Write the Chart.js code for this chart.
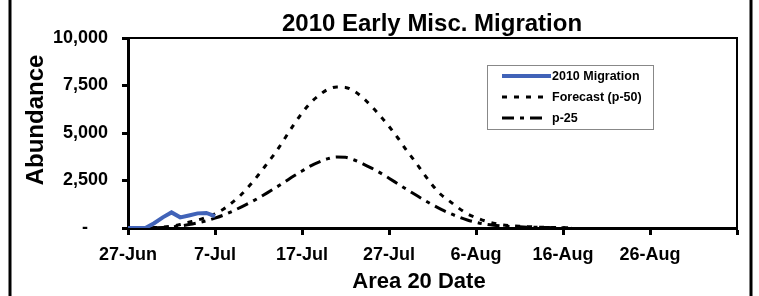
<!DOCTYPE html>
<html>
<head>
<meta charset="utf-8">
<script src="https://cdn.jsdelivr.net/npm/chart.js@4.4.1/dist/chart.umd.min.js"></script>
<style>
  html, body { margin: 0; padding: 0; background: #fff; }
  #wrap { width: 759px; height: 296px; }
</style>
</head>
<body>
<div id="wrap"><canvas id="chart" width="759" height="296"></canvas></div>
<script>
// Days since 27-Jun
const xTickLabels = ['27-Jun', '7-Jul', '17-Jul', '27-Jul', '6-Aug', '16-Aug', '26-Aug', ''];

const migrationDays = [0, 1, 2, 3, 4, 5, 6, 7, 8, 9, 10];
const migration2010 = [0, 0, 0, 250, 560, 820, 560, 660, 770, 790, 620];

const forecastDays = [];
for (let d = 0; d <= 51; d++) forecastDays.push(d);

const forecastP50 = [0, 0, 0, 20, 50, 100, 180, 300, 420, 560,
    750, 1000, 1350, 1750, 2250, 2800, 3400, 4000, 4700, 5400,
    6050, 6600, 7000, 7300, 7420, 7400, 7200, 6850, 6400, 5900,
    5350, 4750, 4100, 3500, 2850, 2250, 1750, 1400, 1050, 750,
    550, 380, 250, 170, 120, 90, 70, 50, 35, 25, 15, 5];

const p25 = [0, 0, 0, 10, 30, 60, 110, 180, 270, 380,
    520, 680, 880, 1100, 1330, 1580, 1850, 2130, 2420, 2720,
    3000, 3270, 3480, 3650, 3740, 3720, 3580, 3380, 3150, 2900,
    2620, 2330, 2040, 1760, 1480, 1220, 980, 770, 580, 420,
    300, 210, 150, 110, 80, 60, 45, 35, 25, 15, 8, 3];

const toPoints = (xs, ys) => xs.map((x, i) => ({ x: x, y: ys[i] }));

const FONT = "'Liberation Sans', Arial, sans-serif";

// Title, axis titles, legend box and frame
const decorPlugin = {
    id: 'decor',
    afterDraw(chart) {
        const ctx = chart.ctx;
        const a = chart.chartArea;
        ctx.save();
        // plot frame top/right
        ctx.strokeStyle = '#000';
        ctx.lineWidth = 2;
        ctx.beginPath();
        ctx.moveTo(a.left, a.top);
        ctx.lineTo(a.right, a.top);
        ctx.lineTo(a.right, a.bottom);
        ctx.stroke();
        // outer frame sides
        ctx.lineWidth = 3;
        ctx.beginPath();
        ctx.moveTo(10, 0); ctx.lineTo(10, 296);
        ctx.moveTo(751, 0); ctx.lineTo(751, 296);
        ctx.stroke();

        ctx.fillStyle = '#000';
        ctx.textAlign = 'center';
        ctx.textBaseline = 'middle';
        ctx.font = 'bold 24px ' + FONT;
        ctx.fillText('2010 Early Misc. Migration', 432, 24);
        ctx.font = 'bold 22px ' + FONT;
        ctx.fillText('Area 20 Date', 419, 282);
        ctx.save();
        ctx.translate(36, 120);
        ctx.rotate(-Math.PI / 2);
        ctx.font = 'bold 24px ' + FONT;
        ctx.fillText('Abundance', 0, 0);
        ctx.restore();

        // legend
        ctx.strokeStyle = '#888';
        ctx.lineWidth = 1;
        ctx.strokeRect(487.5, 65.5, 166, 64);
        const rows = [76, 97, 118];
        const sampleEnd = [551, 546, 545];
        chart.data.datasets.forEach((ds, i) => {
            const y = rows[i];
            ctx.save();
            ctx.strokeStyle = ds.borderColor;
            ctx.lineWidth = ds.borderWidth;
            ctx.setLineDash(ds.borderDash || []);
            ctx.beginPath();
            ctx.moveTo(502, y);
            ctx.lineTo(sampleEnd[i], y);
            ctx.stroke();
            ctx.restore();
            ctx.fillStyle = '#000';
            ctx.textAlign = 'left';
            ctx.font = 'bold 12.5px ' + FONT;
            ctx.fillText(ds.label, 552, y + 1);
        });
        ctx.restore();
    }
};

new Chart(document.getElementById('chart'), {
    type: 'line',
    data: {
        datasets: [
            {
                label: '2010 Migration',
                data: toPoints(migrationDays, migration2010),
                borderColor: '#4163b8',
                borderWidth: 4,
                pointRadius: 0,
                tension: 0
            },
            {
                label: 'Forecast (p-50)',
                data: toPoints(forecastDays, forecastP50),
                borderColor: '#000',
                borderWidth: 3,
                borderDash: [5, 7],
                pointRadius: 0,
                cubicInterpolationMode: 'monotone'
            },
            {
                label: 'p-25',
                data: toPoints(forecastDays, p25),
                borderColor: '#000',
                borderWidth: 3,
                borderDash: [12, 6, 4, 6],
                pointRadius: 0,
                cubicInterpolationMode: 'monotone'
            }
        ]
    },
    options: {
        responsive: false,
        animation: false,
        layout: { padding: { top: 38, right: 22, left: 0, bottom: 0 } },
        plugins: {
            legend: { display: false },
            title: { display: false },
            tooltip: { enabled: false }
        },
        scales: {
            x: {
                type: 'linear',
                min: 0,
                max: 70,
                afterFit: scale => { scale.height = 68; },
                border: { color: '#000', width: 3 },
                grid: { drawOnChartArea: false, drawTicks: true, tickLength: 7, tickColor: '#000', tickWidth: 3 },
                ticks: {
                    stepSize: 10,
                    autoSkip: false,
                    maxRotation: 0,
                    padding: 9,
                    color: '#000',
                    font: { family: FONT, size: 18, weight: 'bold' },
                    callback: v => xTickLabels[Math.round(v / 10)]
                }
            },
            y: {
                min: 0,
                max: 10000,
                afterFit: scale => { scale.width = 128; },
                border: { color: '#000', width: 3 },
                grid: { drawOnChartArea: false, drawTicks: true, tickLength: 6, tickColor: '#000', tickWidth: 3 },
                ticks: {
                    stepSize: 2500,
                    padding: 14,
                    color: '#000',
                    font: { family: FONT, size: 18, weight: 'bold' },
                    callback: v => v === 0 ? '-    ' : v.toLocaleString('en-US')
                }
            }
        }
    },
    plugins: [decorPlugin]
});
</script>
</body>
</html>
